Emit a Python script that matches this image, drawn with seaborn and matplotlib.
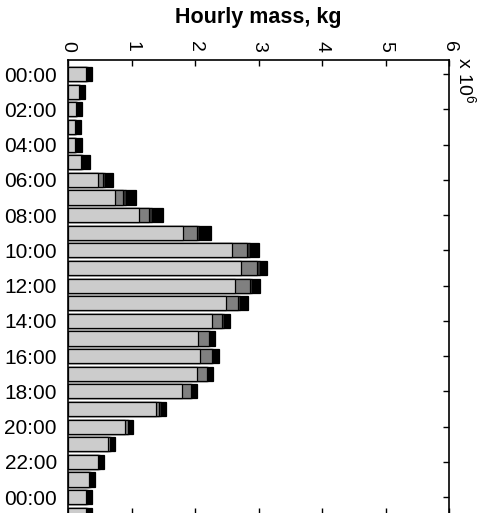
import matplotlib
matplotlib.use("Agg")
import matplotlib.pyplot as plt
import seaborn as sns
import pandas as pd
import numpy as np

# ---- data (values in units of 1e6 kg) ----
hours = list(range(26))
light = [0.29, 0.18, 0.13, 0.115, 0.115, 0.20, 0.47, 0.74, 1.12, 1.816, 2.59, 2.72, 2.63,
         2.49, 2.27, 2.05, 2.08, 2.03, 1.795, 1.386, 0.90, 0.635, 0.47, 0.335, 0.29, 0.29]
medium = [0.01, 0.005, 0.005, 0.005, 0.005, 0.02, 0.08, 0.13, 0.16, 0.21, 0.236, 0.257, 0.236,
          0.195, 0.16, 0.17, 0.184, 0.157, 0.137, 0.052, 0.04, 0.026, 0.025, 0.016, 0.01, 0.01]
dark = [0.01, 0.005, 0.005, 0.005, 0.005, 0.015, 0.035, 0.05, 0.05, 0.04, 0.042, 0.042, 0.027,
        0.016, 0.02, 0.016, 0.016, 0.016, 0.02, 0.027, 0.02, 0.016, 0.01, 0.01, 0.01, 0.01]
black = [0.07, 0.07, 0.08, 0.08, 0.095, 0.11, 0.125, 0.155, 0.17, 0.184, 0.142, 0.121, 0.127,
         0.129, 0.10, 0.08, 0.10, 0.087, 0.078, 0.075, 0.06, 0.068, 0.065, 0.059, 0.07, 0.07]
tick_hours = list(range(0, 25, 2))
tick_labels = ["00:00", "02:00", "04:00", "06:00", "08:00", "10:00", "12:00",
               "14:00", "16:00", "18:00", "20:00", "22:00", "00:00"]
x_ticks = [0, 1, 2, 3, 4, 5, 6]

df = pd.DataFrame({"hour": hours, "light": light, "medium": medium,
                   "dark": dark, "black": black})
df["c1"] = df["light"]
df["c2"] = df["c1"] + df["medium"]
df["c3"] = df["c2"] + df["dark"]
df["c4"] = df["c3"] + df["black"]

sns.set_style("white")
plt.rcParams["font.family"] = ["Liberation Sans", "DejaVu Sans"]
plt.rcParams["mathtext.fontset"] = "custom"
plt.rcParams["mathtext.rm"] = "Liberation Sans"
plt.rcParams["mathtext.it"] = "Liberation Sans"
plt.rcParams["text.color"] = "black"
plt.rcParams["xtick.color"] = "black"
plt.rcParams["ytick.color"] = "black"
plt.rcParams["xtick.labelcolor"] = "black"
plt.rcParams["ytick.labelcolor"] = "black"

W, H = 490, 513
fig = plt.figure(figsize=(W / 100, H / 100), dpi=100)
left, right, top, bottom = 68, 449, 60, 514
ax = fig.add_axes([left / W, 1 - bottom / H, (right - left) / W, (bottom - top) / H])

layers = [("c4", "#000000"), ("c3", "#333333"), ("c2", "#808080"), ("c1", "#cccccc")]
for col, colr in layers:
    sns.barplot(data=df, x=col, y="hour", orient="y", color=colr, saturation=1,
                edgecolor="black", linewidth=0.9, width=0.8, errorbar=None, ax=ax)

ax.set_xlim(0, 6)
ax.set_ylim(24.96, -0.8)
ax.set_xlabel("")
ax.set_ylabel("")
ax.set_xticks(x_ticks)
ax.set_xticklabels([str(v) for v in x_ticks], rotation=-90, fontsize=14, color="black")
ax.set_yticks(tick_hours)
ax.set_yticklabels(tick_labels, fontsize=15, color="black")
ax.xaxis.tick_top()
ax.tick_params(axis="both", direction="in", length=4, width=1, color="black")
ax.tick_params(axis="x", top=True, bottom=True, labeltop=True, labelbottom=False, pad=6)
ax.tick_params(axis="y", left=True, right=True, labelleft=True, labelright=False, pad=8)
ax.set_axisbelow(True)
for s in ax.spines.values():
    s.set_visible(True)
    s.set_color("black")
    s.set_linewidth(1.2)

fig.text(258.5 / W, 1 - 18 / H, "Hourly mass, kg", ha="center", va="center",
         fontsize=15.5, fontweight="bold", color="black")
fig.text(466 / W, 1 - 57 / H, r"x 10$^{6}$", ha="center", va="top",
         rotation=-90, fontsize=14, color="black")

fig.savefig("out.png", dpi=100, facecolor="white")
